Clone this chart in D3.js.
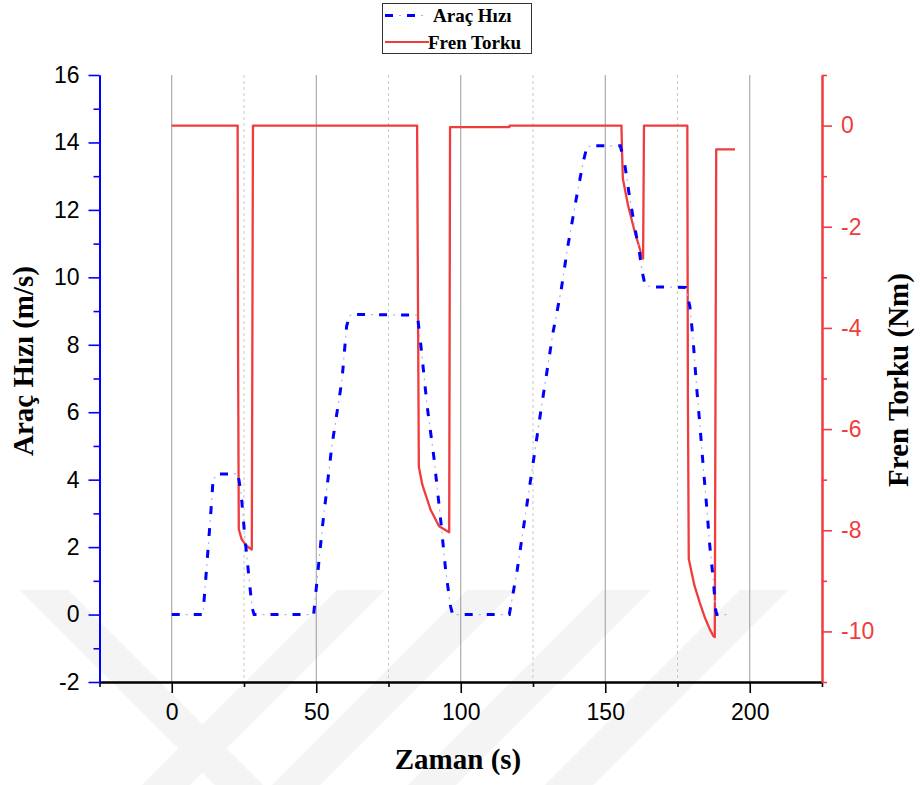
<!DOCTYPE html>
<html>
<head>
<meta charset="utf-8">
<script src="https://cdn.jsdelivr.net/npm/d3@7"></script>
<style>
body { margin: 0; background: #fff; }
</style>
</head>
<body>
<script>
// Araç hızı (m/s), zaman (s)
var speedT = [0, 10.8, 12, 13.5, 14.3, 15.5, 16.5, 22.9, 24.0, 25.3, 26.8, 27.8, 28.5,
              49.1, 52, 55.4, 58.9, 60.5, 61.5, 62.5, 85.0, 86.1, 88.4, 90.7, 93.1, 94.8, 96.5, 97.2,
              116.8, 119.5, 124, 128, 132, 134.7, 137, 139.9, 142.3, 143.6, 145,
              155.2, 156.7, 158.4, 160.2, 161.9, 162.7, 163.6, 165.4,
              177.8, 179.3, 180.4, 181.6, 182.7, 183.9, 185.1, 186.2, 187.4, 188.2, 188.6, 193];
var speedV = [0, 0, 1.32, 3.0, 4.0, 4.14, 4.17, 4.17, 3.6, 2.3, 1.03, 0.2, 0,
              0, 2.5, 5.0, 6.95, 8.55, 8.85, 8.9, 8.88, 8.06, 6.16, 4.67, 2.77, 1.29, 0.23, 0,
              0, 1.3, 3.9, 6.2, 8.4, 9.6, 10.9, 12.3, 13.4, 13.85, 13.9,
              13.9, 13.38, 12.39, 11.5, 10.7, 10.2, 9.84, 9.72,
              9.7, 9.13, 8.14, 6.76, 5.67, 4.39, 3.2, 2.01, 1.03, 0.14, 0, 0];

// Fren torku (Nm)
var torqueT = [0, 22.8, 22.95, 23.2, 24.2, 25.9, 27.7, 28.1,
               84.9, 85.2, 85.5, 86.7, 89.6, 92.5, 95.4, 96.0, 96.3,
               116.8, 116.9,
               155.6, 155.85, 156.1, 157.9, 160.2, 162.3, 163.1, 163.4,
               178.4, 178.6, 178.9, 179.9, 180.9, 182.7, 184.5, 186.2, 187.4, 187.9, 188.4, 194.9];
var torqueV = [0, 0, -4.5, -7.98, -8.18, -8.31, -8.38, 0,
               0, -3.5, -6.75, -7.1, -7.6, -7.92, -8.02, -8.04, -0.03,
               -0.03, 0,
               0, -0.6, -1.05, -1.58, -2.1, -2.5, -2.63, 0,
               0, -5.4, -8.57, -8.84, -9.1, -9.43, -9.73, -9.96, -10.09, -10.11, -0.47, -0.47];

var xTicks = [0, 50, 100, 150, 200];
var xMinor = [-25, 25, 75, 125, 175, 225];
var yLeftTicks = [-2, 0, 2, 4, 6, 8, 10, 12, 14, 16];
var yLeftMinor = [-1, 1, 3, 5, 7, 9, 11, 13, 15];
var yRightTicks = [0, -2, -4, -6, -8, -10];
var yRightMinor = [1, -1, -3, -5, -7, -9, -11];
var legendNames = ['Araç Hızı', 'Fren Torku'];

var width = 920, height = 785;
var blue = '#0000ff', red = '#f03c3c';
var tickFont = '"Liberation Sans", Arial, sans-serif';
var titleFont = '"Liberation Serif", "Times New Roman", serif';
var fmt = function(d) { return String(d); };   // plain hyphen minus

var svg = d3.select('body').append('svg')
    .attr('width', width)
    .attr('height', height);

// faint watermark in the background
var wm = svg.append('g').attr('fill', '#f4f4f4');
[337, 467, 603, 740].forEach(function(x0) {
    wm.append('polygon').attr('points',
        [[x0, 590], [x0 + 48, 590], [x0 + 48 - 195, 785], [x0 - 195, 785]].join(' '));
});
wm.append('polygon').attr('points', [[20, 590], [68, 590], [263, 785], [215, 785]].join(' '));

var x = d3.scaleLinear().domain([-25, 225]).range([99.5, 822]);
var yL = d3.scaleLinear().domain([-2, 16]).range([682, 75]);
var yR = d3.scaleLinear().domain([-11, 1]).range([682, 75]);

// vertical grid
svg.append('g').selectAll('line.gmaj')
    .data(xTicks).enter().append('line')
    .attr('class', 'gmaj')
    .attr('x1', function(d) { return x(d); })
    .attr('x2', function(d) { return x(d); })
    .attr('y1', 75).attr('y2', 682)
    .attr('stroke', '#9a9a9a').attr('stroke-width', 1);
svg.append('g').selectAll('line.gmin')
    .data(xMinor.slice(1, -1)).enter().append('line')
    .attr('class', 'gmin')
    .attr('x1', function(d) { return x(d); })
    .attr('x2', function(d) { return x(d); })
    .attr('y1', 75).attr('y2', 682)
    .attr('stroke', '#c8c8c8').attr('stroke-width', 1)
    .attr('stroke-dasharray', '3,3');

// lines
var speedLine = d3.line()
    .x(function(d) { return x(d[0]); })
    .y(function(d) { return yL(d[1]); });
var torqueLine = d3.line()
    .x(function(d) { return x(d[0]); })
    .y(function(d) { return yR(d[1]); });

var speedData = d3.zip(speedT, speedV);
var torqueData = d3.zip(torqueT, torqueV);

svg.append('path')
    .attr('d', torqueLine(torqueData))
    .attr('fill', 'none')
    .attr('stroke', red)
    .attr('stroke-width', 2.3)
    .attr('stroke-linejoin', 'round');

svg.append('path')
    .attr('d', speedLine(speedData))
    .attr('fill', 'none')
    .attr('stroke', blue)
    .attr('stroke-width', 3)
    .attr('stroke-dasharray', '8,14');
svg.append('path')
    .attr('d', speedLine(speedData))
    .attr('fill', 'none')
    .attr('stroke', '#aab0ff')
    .attr('stroke-width', 1.2)
    .attr('stroke-dasharray', '2,20')
    .attr('stroke-dashoffset', 8);

// axes
function styleAxis(g, col, txtCol) {
    g.selectAll('.domain').attr('stroke', col).attr('stroke-width', 2);
    g.selectAll('.tick line').attr('stroke', col).attr('stroke-width', 1.6);
    g.selectAll('.tick text')
        .attr('fill', txtCol)
        .attr('font-size', 23)
        .attr('font-family', tickFont);
}

var gB = svg.append('g').attr('transform', 'translate(0,682)')
    .call(d3.axisBottom(x).tickValues(xTicks).tickFormat(fmt).tickSize(11).tickPadding(11).tickSizeOuter(0));
styleAxis(gB, '#000', '#000');
var gBm = svg.append('g').attr('transform', 'translate(0,682)')
    .call(d3.axisBottom(x).tickValues(xMinor).tickSize(5).tickFormat('').tickSizeOuter(0));
styleAxis(gBm, '#000', '#000');

var gL = svg.append('g').attr('transform', 'translate(99.5,0)')
    .call(d3.axisLeft(yL).tickValues(yLeftTicks).tickFormat(fmt).tickSize(11).tickPadding(9).tickSizeOuter(0));
styleAxis(gL, blue, '#000');
var gLm = svg.append('g').attr('transform', 'translate(99.5,0)')
    .call(d3.axisLeft(yL).tickValues(yLeftMinor).tickSize(6).tickFormat('').tickSizeOuter(0));
styleAxis(gLm, blue, '#000');

var gR = svg.append('g').attr('transform', 'translate(822,0)')
    .call(d3.axisRight(yR).tickValues(yRightTicks).tickFormat(fmt).tickSize(10).tickPadding(9).tickSizeOuter(0));
styleAxis(gR, red, red);
var gRm = svg.append('g').attr('transform', 'translate(822,0)')
    .call(d3.axisRight(yR).tickValues(yRightMinor).tickSize(5).tickFormat('').tickSizeOuter(0));
styleAxis(gRm, red, red);

// axis titles
svg.append('text')
    .attr('transform', 'translate(33,361) rotate(-90)')
    .attr('text-anchor', 'middle')
    .attr('font-family', titleFont)
    .attr('font-weight', 'bold')
    .attr('font-size', 29)
    .text('Araç Hızı (m/s)');

svg.append('text')
    .attr('transform', 'translate(908,380) rotate(-90)')
    .attr('text-anchor', 'middle')
    .attr('font-family', titleFont)
    .attr('font-weight', 'bold')
    .attr('font-size', 29)
    .text('Fren Torku (Nm)');

svg.append('text')
    .attr('x', 458).attr('y', 769)
    .attr('text-anchor', 'middle')
    .attr('font-family', titleFont)
    .attr('font-weight', 'bold')
    .attr('font-size', 29)
    .text('Zaman (s)');

// legend
var lg = svg.append('g');
lg.append('rect')
    .attr('x', 382.5).attr('y', 3.5)
    .attr('width', 149).attr('height', 50)
    .attr('fill', '#fff').attr('stroke', '#333').attr('stroke-width', 1);
lg.append('line')
    .attr('x1', 385).attr('x2', 424).attr('y1', 15.5).attr('y2', 15.5)
    .attr('stroke', blue).attr('stroke-width', 3).attr('stroke-dasharray', '8,14');
lg.append('line')
    .attr('x1', 385).attr('x2', 424).attr('y1', 15.5).attr('y2', 15.5)
    .attr('stroke', '#aab0ff').attr('stroke-width', 1.2)
    .attr('stroke-dasharray', '2,20').attr('stroke-dashoffset', 8);
lg.append('line')
    .attr('x1', 385).attr('x2', 429).attr('y1', 42).attr('y2', 42)
    .attr('stroke', red).attr('stroke-width', 2);
lg.append('text')
    .attr('x', 433).attr('y', 22)
    .attr('font-family', titleFont).attr('font-weight', 'bold').attr('font-size', 19)
    .text(legendNames[0]);
lg.append('text')
    .attr('x', 428).attr('y', 49)
    .attr('font-family', titleFont).attr('font-weight', 'bold').attr('font-size', 19)
    .text(legendNames[1]);
</script>
</body>
</html>
